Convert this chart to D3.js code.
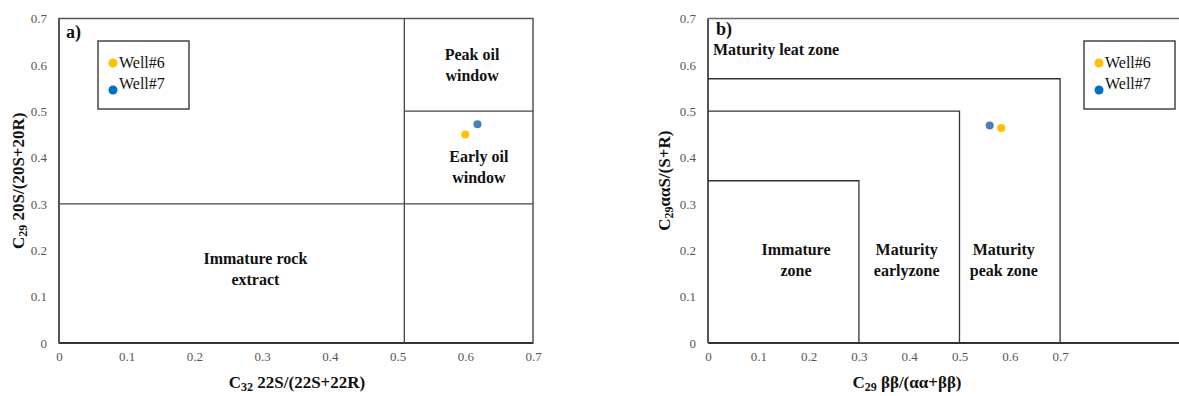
<!DOCTYPE html>
<html><head><meta charset="utf-8">
<script src="https://cdn.jsdelivr.net/npm/d3@7"></script>
<style>
svg text, svg tspan { font-family: "Liberation Serif", "Times New Roman", serif !important; }
</style>
</head>
<body style="margin:0;background:#fff">
<script>
// ---- data ----
const ticksA = [0,0.1,0.2,0.3,0.4,0.5,0.6,0.7];
const ticksBx = [0,0.1,0.2,0.3,0.4,0.5,0.6,0.7];
const ticksBy = [0,0.1,0.2,0.3,0.4,0.5,0.6,0.7];
const seriesNames = ["Well#6","Well#7"];
const seriesColors = ["#FFC000","#4A7EBB"];
const legendColors = ["#FFC000","#0070C0"];
// chart a: x = C32 22S/(22S+22R), y = C29 20S/(20S+20R)
const aX = [0.60, 0.618];
const aY = [0.450, 0.472];
// chart b: x = C29 bb/(aa+bb), y = C29 aaS/(S+R)
const bX = [0.583, 0.560];
const bY = [0.464, 0.469];
// zone boundaries
const aVert = 0.51, aH1 = 0.5, aH2 = 0.3;
const bBoxes = [[0.3,0.35],[0.5,0.5],[0.7,0.57]];
const aZones = [
  {lines:["Peak oil","window"], x:0.61, y:0.61},
  {lines:["Early oil","window"], x:0.62, y:0.39},
  {lines:["Immature rock","extract"], x:0.29, y:0.17}
];
const bZones = [
  {lines:["Immature","zone"], x:0.175, y:0.19},
  {lines:["Maturity","earlyzone"], x:0.395, y:0.19},
  {lines:["Maturity","peak zone"], x:0.588, y:0.19}
];

const W=1179,H=396;
const FONT="Liberation Serif";
const svg=d3.select("body").append("svg").attr("width",W).attr("height",H)
  .attr("font-family",FONT).style("font-family",FONT,"important");

function drawAxes(g,x,y,xt,yt){
  const ax=g.append("g").attr("transform",`translate(0,${y.range()[0]})`)
    .call(d3.axisBottom(x).tickValues(xt).tickSize(0).tickPadding(9).tickFormat(d=>d===0?"0":d3.format(".1f")(d)));
  ax.select(".domain").remove();
  ax.attr("font-family",FONT).attr("font-size",13);
  ax.selectAll("text").style("font-size","13px").style("fill","#555");
  const ay=g.append("g").attr("transform",`translate(${x.range()[0]},0)`)
    .call(d3.axisLeft(y).tickValues(yt).tickSize(0).tickPadding(12).tickFormat(d=>d===0?"0":d3.format(".1f")(d)));
  ay.select(".domain").remove();
  ay.attr("font-family",FONT).attr("font-size",13);
  ay.selectAll("text").style("font-size","13px").style("fill","#555");
}
function zoneText(g,x,y,z){
  const t=g.append("text").style("font-weight","bold").style("font-size","16px").style("fill","#111")
    .attr("text-anchor","middle").attr("x",x(z.x)).attr("y",y(z.y));
  z.lines.forEach((l,i)=>t.append("tspan").attr("x",x(z.x)).attr("dy",i===0?0:21).text(l));
}
function boldText(g,x0,y0,s){
  return g.append("text").style("font-weight","bold").style("font-size","16px").style("fill","#111")
    .attr("x",x0).attr("y",y0).text(s);
}
function legend(g,x0,y0){
  g.append("rect").attr("x",x0).attr("y",y0).attr("width",91).attr("height",68)
    .attr("fill","#fff").attr("stroke","#444").attr("stroke-width",1.5);
  seriesNames.forEach((n,i)=>{
    g.append("circle").attr("cx",x0+15).attr("cy",y0+22+i*27).attr("r",4.5).attr("fill",legendColors[i]);
    g.append("text").attr("x",x0+21).attr("y",y0+27+i*21).style("font-size","16px").style("fill","#111").text(n);
  });
}
function title(g,x0,y0,sub,rest,rot){
  const t=g.append("text").style("font-weight","bold").style("font-size","17px").style("fill","#111")
    .attr("text-anchor","middle");
  if(rot) t.attr("transform",`translate(${x0},${y0}) rotate(-90)`); else t.attr("x",x0).attr("y",y0);
  t.append("tspan").text("C");
  t.append("tspan").style("font-size","12px").attr("dy",3).text(sub);
  t.append("tspan").attr("dy",-3).text(rest);
}

// ---------- chart a ----------
{
  const x=d3.scaleLinear().domain([0,0.7]).range([59,533]);
  const y=d3.scaleLinear().domain([0,0.7]).range([343,18.5]);
  const g=svg.append("g");
  g.append("rect").attr("x",x(0)).attr("y",y(0.7)).attr("width",x(0.7)-x(0)).attr("height",y(0)-y(0.7))
    .attr("fill","none").attr("stroke","#555").attr("stroke-width",1.5);
  g.append("line").attr("x1",x(0)).attr("x2",x(0.7)).attr("y1",y(0)).attr("y2",y(0)).attr("stroke","#333").attr("stroke-width",2);
  g.append("line").attr("x1",x(0)).attr("x2",x(0)).attr("y1",y(0)).attr("y2",y(0.7)).attr("stroke","#555").attr("stroke-width",2);
  g.append("line").attr("x1",x(aVert)).attr("x2",x(aVert)).attr("y1",y(0)).attr("y2",y(0.7)).attr("stroke","#444").attr("stroke-width",1.3);
  g.append("line").attr("x1",x(aVert)).attr("x2",x(0.7)).attr("y1",y(aH1)).attr("y2",y(aH1)).attr("stroke","#444").attr("stroke-width",1.3);
  g.append("line").attr("x1",x(0)).attr("x2",x(0.7)).attr("y1",y(aH2)).attr("y2",y(aH2)).attr("stroke","#444").attr("stroke-width",1.3);
  drawAxes(g,x,y,ticksA,ticksA);
  aZones.forEach(z=>zoneText(g,x,y,z));
  boldText(g,66,38,"a)").style("font-size","18px");
  legend(g,98,41);
  aX.forEach((v,i)=>g.append("circle").attr("cx",x(v)).attr("cy",y(aY[i])).attr("r",4).attr("fill",seriesColors[i]));
  title(g,297,388,"32"," 22S/(22S+22R)",false);
  title(g,24,(y(0)+y(0.7))/2,"29"," 20S/(20S+20R)",true);
}

// ---------- chart b ----------
{
  const x=d3.scaleLinear().domain([0,1.0]).range([708,1211]);
  const y=d3.scaleLinear().domain([0,0.7]).range([343,18.5]);
  const g=svg.append("g");
  g.append("line").attr("x1",x(0)).attr("x2",W+5).attr("y1",y(0.7)).attr("y2",y(0.7)).attr("stroke","#666").attr("stroke-width",1.5);
  g.append("line").attr("x1",x(0)).attr("x2",W+5).attr("y1",y(0)).attr("y2",y(0)).attr("stroke","#333").attr("stroke-width",2);
  g.append("line").attr("x1",x(0)).attr("x2",x(0)).attr("y1",y(0)).attr("y2",y(0.7)).attr("stroke","#555").attr("stroke-width",2);
  bBoxes.forEach(b=>{
    g.append("path").attr("d",`M${x(0)},${y(b[1])}H${x(b[0])}V${y(0)}`)
      .attr("fill","none").attr("stroke","#333").attr("stroke-width",1.3);
  });
  drawAxes(g,x,y,ticksBx,ticksBy);
  bZones.forEach(z=>zoneText(g,x,y,z));
  boldText(g,716,35,"b)").style("font-size","18px");
  boldText(g,713,55,"Maturity leat zone");
  legend(g,1084,41);
  bX.forEach((v,i)=>g.append("circle").attr("cx",x(v)).attr("cy",y(bY[i])).attr("r",4).attr("fill",seriesColors[i]));
  title(g,907,388,"29"," ββ/(αα+ββ)",false);
  title(g,670,(y(0)+y(0.7))/2,"29","ααS/(S+R)",true);
}
// apply the serif face directly on every text node
svg.selectAll("text, tspan").attr("font-family",FONT).style("font-family",FONT,"important");
</script>
</body></html>
